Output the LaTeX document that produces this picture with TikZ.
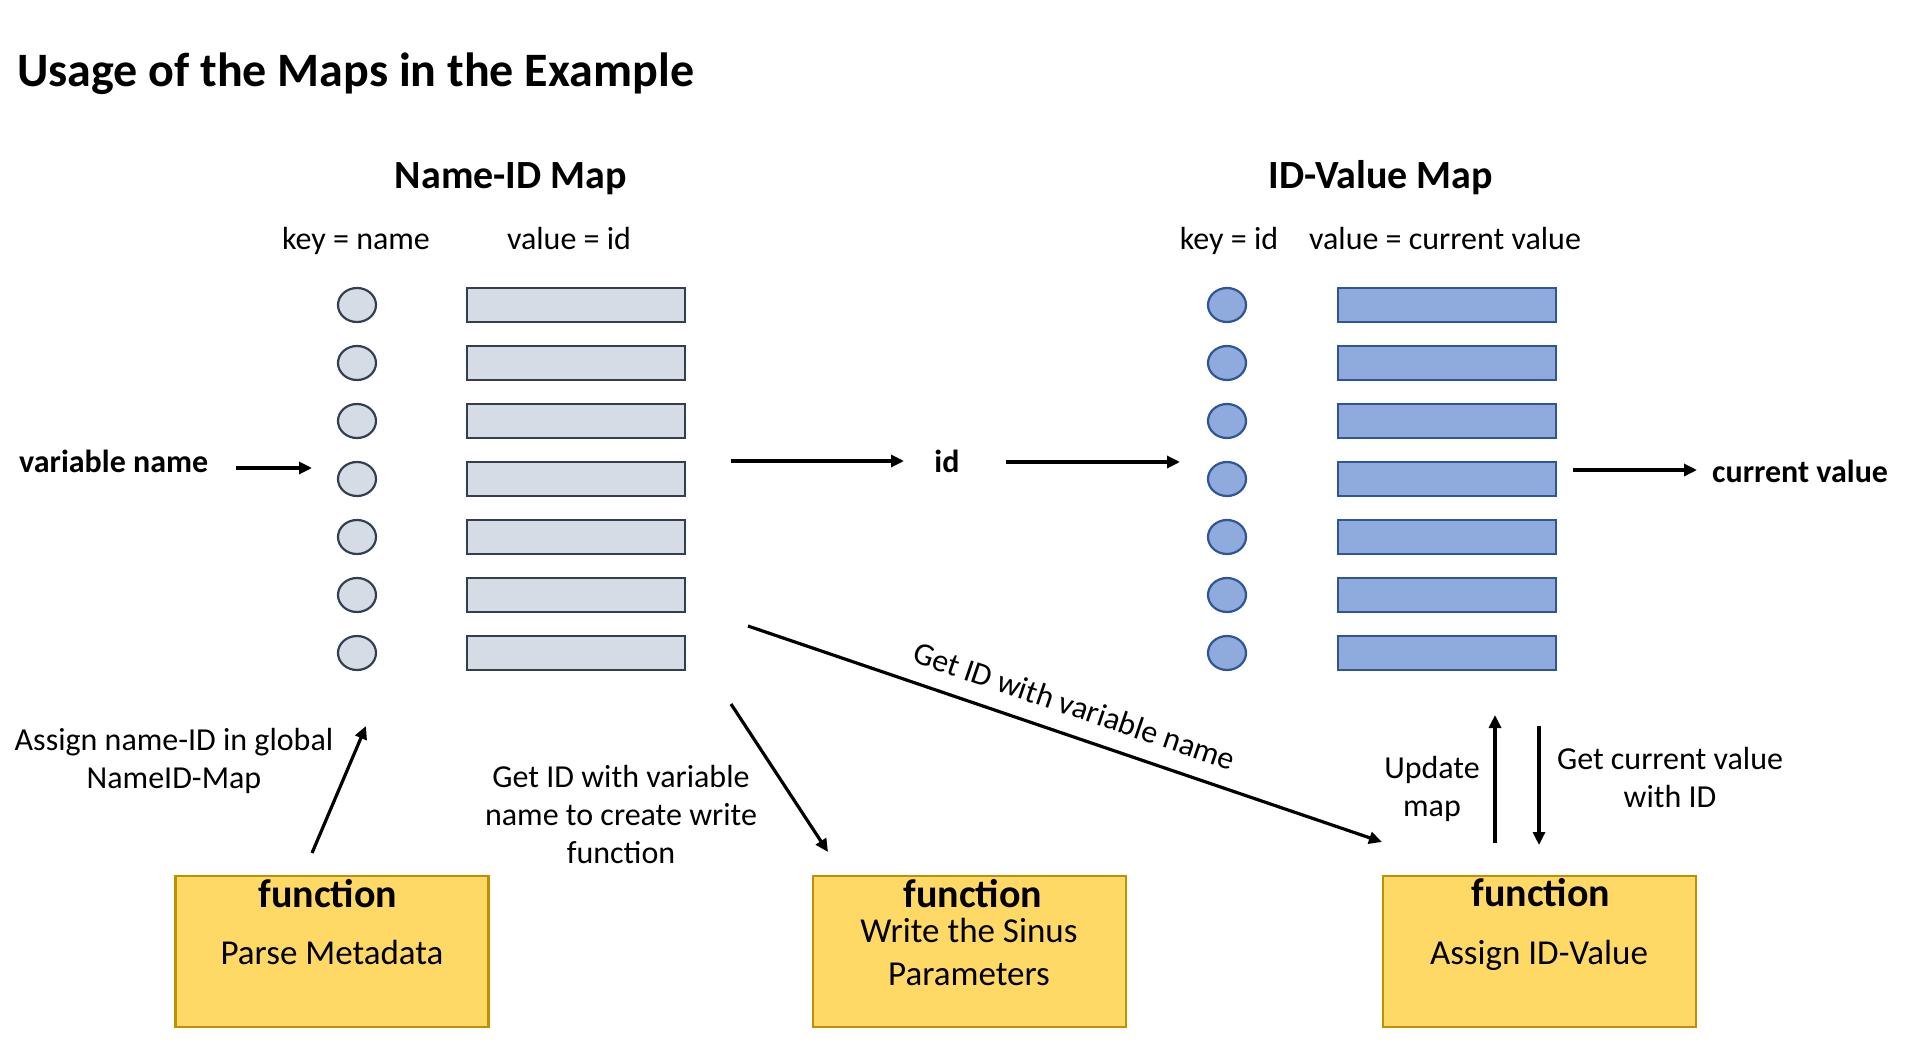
\documentclass[tikz,border=0pt]{standalone}
\usepackage{fontspec}
\setmainfont{Carlito}
\usetikzlibrary{shapes.geometric,arrows.meta}
\definecolor{lfill}{HTML}{D6DCE5}
\definecolor{lline}{HTML}{333F50}
\definecolor{dfill}{HTML}{8FAADC}
\definecolor{dline}{HTML}{2F5597}
\definecolor{yfill}{HTML}{FFD966}
\definecolor{yline}{HTML}{BF9000}
\newcommand\fsText{\fontsize{32}{38}\selectfont}
\newcommand\fsHead{\fontsize{40}{48}\selectfont\bfseries}
\newcommand\fsBody{\fontsize{35}{42}\selectfont}
\newcommand\fsTitle{\fontsize{48}{58}\selectfont\bfseries}
\begin{document}
\begin{tikzpicture}[x=1pt,y=-1pt,
  keyL/.style={ellipse, draw=lline, fill=lfill, line width=2.2pt, minimum width=38pt, minimum height=34pt, inner sep=0pt},
  valL/.style={rectangle, draw=lline, fill=lfill, line width=2.2pt, minimum width=218pt, minimum height=34pt, inner sep=0pt},
  keyR/.style={ellipse, draw=dline, fill=dfill, line width=2.2pt, minimum width=38pt, minimum height=34pt, inner sep=0pt},
  valR/.style={rectangle, draw=dline, fill=dfill, line width=2.2pt, minimum width=218pt, minimum height=34pt, inner sep=0pt},
  fbox/.style={rectangle, draw=yline, fill=yfill, line width=2.5pt, minimum width=313pt, minimum height=151pt, inner sep=0pt},
  txt/.style={inner sep=0pt, font=\fsText},
  btxt/.style={inner sep=0pt, font=\fsText\bfseries},
  hdr/.style={inner sep=0pt, font=\fsHead},
  ftitle/.style={inner sep=0pt, font=\fsHead},
  fbody/.style={inner sep=0pt, font=\fsBody},
  arr/.style={line width=3.2pt, -{Triangle[length=13pt,width=12pt]}}
]
\useasboundingbox (0,0) rectangle (1906,1049);

% title
\node[inner sep=0pt, font=\fsTitle, anchor=base west] (title) at (17,86) {Usage of the Maps in the Example};

% headings
\node[hdr, anchor=base] (h1) at (511,188) {Name-ID Map};
\node[txt, anchor=base] (k1) at (356,249) {key = name};
\node[txt, anchor=base] (v1) at (569,249) {value = id};
\node[hdr, anchor=base] (h2) at (1381,188) {ID-Value Map};
\node[txt, anchor=base] (k2) at (1229,249) {key = id};
\node[txt, anchor=base] (v2) at (1445,249) {value = current value};

% maps
\foreach \i in {1,...,7}{
  \node[keyL] (lk\i) at (357,{305+58*(\i-1)}) {};
  \node[valL] (lv\i) at (576,{305+58*(\i-1)}) {};
  \node[keyR] (rk\i) at (1227,{305+58*(\i-1)}) {};
  \node[valR] (rv\i) at (1447,{305+58*(\i-1)}) {};
}

% labels
\node[btxt, anchor=base west] (vn) at (19,472) {variable name};
\node[btxt, anchor=base] (id) at (947,472) {id};
\node[btxt, anchor=base west] (cv) at (1712,482) {current value};

% multi-line labels: base anchor = baseline of the last line
\node[txt, align=center, anchor=base] (n1) at (174,788) {Assign name-ID in global\\NameID-Map};
\node[txt, align=center, anchor=base] (n2) at (621,863) {Get ID with variable\\name to create write\\function};
\node[txt, align=center, anchor=base] (n3) at (1432,816) {Update\\map};
\node[txt, align=center, anchor=base] (n4) at (1670,807) {Get current value\\with ID};

% function boxes
\node[fbox] (f1) at (332,951.5) {};
\node[fbox] (f2) at (969.5,951.5) {};
\node[fbox] (f3) at (1539.5,951.5) {};
\node[ftitle, anchor=base] (f1a) at (328,907) {function};
\node[fbody, anchor=base] (f1b) at (332,964) {Parse Metadata};
\node[ftitle, anchor=base] (f2a) at (973,907) {function};
\node[fbody, anchor=base] (f2b) at (969,942) {Write the Sinus};
\node[fbody, anchor=base] (f2c) at (969,985) {Parameters};
\node[ftitle, anchor=base] (f3a) at (1541,906) {function};
\node[fbody, anchor=base] (f3b) at (1539,964) {Assign ID-Value};

% arrow end points
\coordinate (a1s) at (236,468); \coordinate (a1e) at (312,468);
\coordinate (a2s) at (731,461); \coordinate (a2e) at (904,461);
\coordinate (a3s) at (1006,462); \coordinate (a3e) at (1180,462);
\coordinate (a4s) at (1573,470); \coordinate (a4e) at (1697,470);
\coordinate (a5s) at (312,853); \coordinate (a5e) at (366,726);
\coordinate (a6s) at (731,704); \coordinate (a6e) at (828,852);
\coordinate (a7s) at (748,626); \coordinate (a7e) at (1382,842);
\coordinate (a8s) at (1495,843); \coordinate (a8e) at (1495,715);
\coordinate (a9s) at (1539,726); \coordinate (a9e) at (1539,845);

\draw[arr] (a1s) -- (a1e);
\draw[arr] (a2s) -- (a2e);
\draw[arr] (a3s) -- (a3e);
\draw[arr] (a4s) -- (a4e);
\draw[arr] (a5s) -- (a5e);
\draw[arr] (a6s) -- (a6e);
\draw[arr] (a7s) -- node[sloped, above=17pt, pos=0.5, inner sep=0pt, font=\fsText] (lab) {Get ID with variable name} (a7e);
\draw[arr] (a8s) -- (a8e);
\draw[arr] (a9s) -- (a9e);
\end{tikzpicture}
\end{document}
